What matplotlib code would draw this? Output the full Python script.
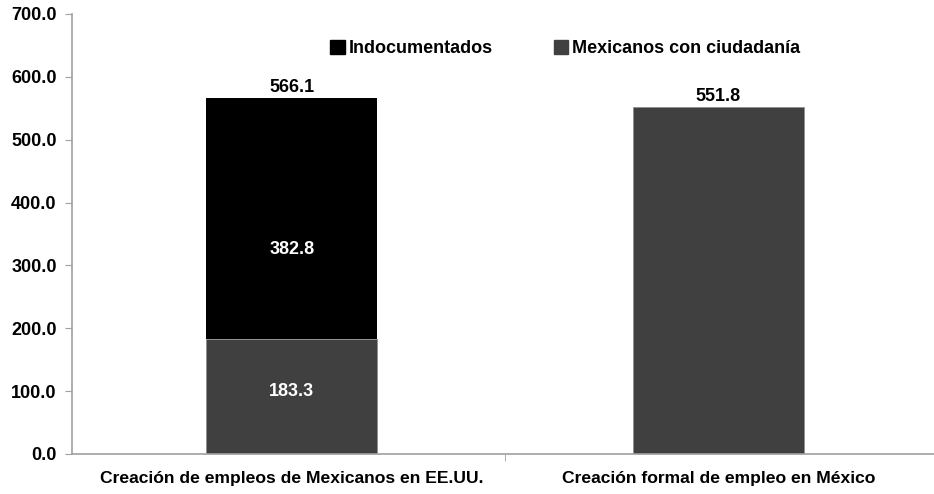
import matplotlib.pyplot as plt
from matplotlib.patches import Patch

plt.rcParams['font.family'] = ['Liberation Sans Narrow', 'Liberation Sans', 'DejaVu Sans']
plt.rcParams['font.weight'] = 'bold'

categories = ["Creación de empleos de Mexicanos en EE.UU.",
              "Creación formal de empleo en México"]
ciudadania = [183.3, 551.8]
indocumentados = [382.8, 0]
totals = [566.1, 551.8]

GRAY = "#404040"
SPINE = "#a0a0a0"

fig = plt.figure(figsize=(9.34, 4.94), dpi=100)
ax = fig.add_axes([0.0771, 0.081, 0.923, 0.8907])

x = [0, 1]
ax.bar(x, ciudadania, width=0.40, color=GRAY, edgecolor="#909090", linewidth=0.6)
ax.bar(x[:1], indocumentados[:1], bottom=ciudadania[:1], width=0.40, color="black")

# inner labels (Excel places them a little off the middle)
ax.text(x[0], ciudadania[0] * 0.54, f"{ciudadania[0]:.1f}", ha="center", va="center",
        color="white", fontsize=13, fontweight="bold")
ax.text(x[0], ciudadania[0] + indocumentados[0] * 0.37, f"{indocumentados[0]:.1f}",
        ha="center", va="center", color="white", fontsize=13, fontweight="bold")
for xi, t in zip(x, totals):
    ax.text(xi, t + 3, f"{t:.1f}", ha="center", va="bottom", color="black",
            fontsize=13, fontweight="bold")

ax.set_xlim(-0.515, 1.506)
ax.set_ylim(0, 700)
ax.set_yticks(range(0, 701, 100))
ax.set_yticklabels([f"{v:.1f}" for v in range(0, 701, 100)], fontsize=13)
ax.set_xticks(x)
ax.set_xticklabels(categories, fontsize=12.6)
ax.set_xticks([0.5], minor=True)
ax.tick_params(axis="x", which="major", length=0, pad=12)
ax.tick_params(axis="x", which="minor", length=5, color=SPINE)
ax.tick_params(axis="y", length=5, color=SPINE, pad=6)

for s in ["top", "right"]:
    ax.spines[s].set_visible(False)
for s in ["left", "bottom"]:
    ax.spines[s].set_color(SPINE)
    ax.spines[s].set_linewidth(1.2)

handles = [Patch(color="black", label="Indocumentados"),
           Patch(color=GRAY, label="Mexicanos con ciudadanía")]
ax.legend(handles=handles, ncol=2, frameon=False, loc="center",
          bbox_to_anchor=(0.572, 0.921), fontsize=13, handlelength=0.8,
          handleheight=0.8, handletextpad=0.2, columnspacing=3.4)

fig.savefig("out.png", dpi=100)
